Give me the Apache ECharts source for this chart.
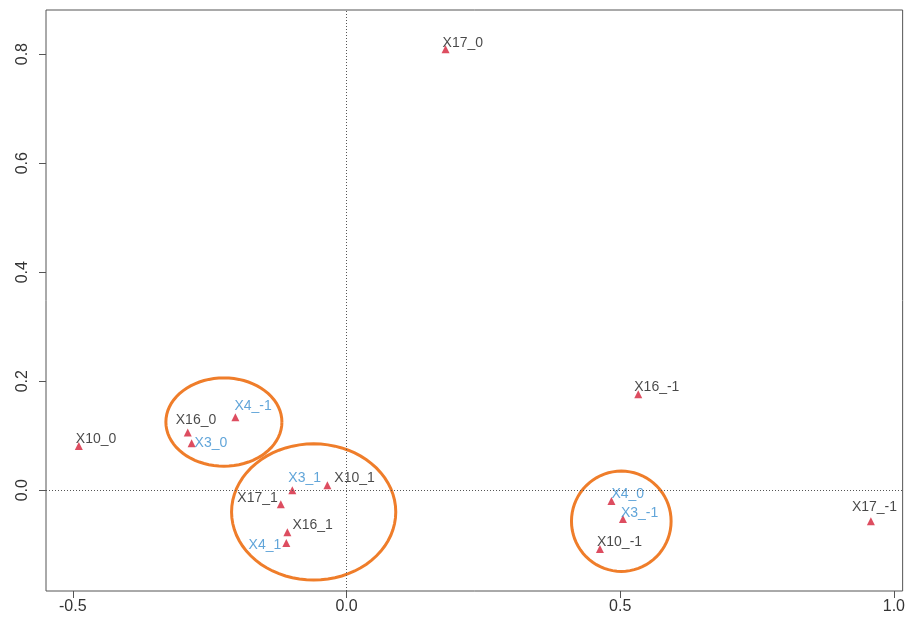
<!DOCTYPE html>
<html>
<head>
<meta charset="utf-8">
<script src="https://cdn.jsdelivr.net/npm/echarts@6/dist/echarts.min.js"></script>
<style>
  html, body { margin: 0; padding: 0; background: #fff; }
  #chart { width: 908px; height: 626px; }
</style>
</head>
<body>
<div id="chart"></div>
<script>
// category levels, coordinates
var names = ['X17_0', 'X16_-1', 'X10_0', 'X16_0', 'X3_0', 'X4_-1', 'X3_1', 'X10_1',
             'X17_1', 'X16_1', 'X4_1', 'X4_0', 'X3_-1', 'X10_-1', 'X17_-1'];
var dim1 = [0.181, 0.533, -0.489, -0.290, -0.283, -0.203, -0.099, -0.035,
            -0.120, -0.108, -0.110, 0.484, 0.505, 0.463, 0.958];
var dim2 = [0.809, 0.176, 0.081, 0.106, 0.086, 0.134, 0.000, 0.009,
            -0.026, -0.077, -0.097, -0.020, -0.053, -0.108, -0.057];
var xTicks = [-0.5, 0.0, 0.5, 1.0];
var yTicks = [0.0, 0.2, 0.4, 0.6, 0.8];
// highlighted groups: centre x, centre y, radius x, radius y (data units)
var groups = [
  [-0.224, 0.125, 0.106, 0.081],
  [-0.060, -0.040, 0.150, 0.125],
  [0.502, -0.057, 0.091, 0.092]
];

var blueVars = ['X3', 'X4'];
// label placement: [align, dx, dy] relative to the marker centre
var labelPlace = {
  'X17_0': ['left', -3, -6], 'X16_-1': ['left', -4, -7], 'X10_0': ['left', -3, -7],
  'X16_0': ['left', -12, -12], 'X3_0': ['left', 3, 0], 'X4_-1': ['left', -1, -11],
  'X3_1': ['left', -4, -12], 'X10_1': ['left', 7, -7], 'X17_1': ['right', -3, -6],
  'X16_1': ['left', 5, -7], 'X4_1': ['right', -5, 2], 'X4_0': ['left', 0, -7],
  'X3_-1': ['left', -2, -6], 'X10_-1': ['left', -3, -7], 'X17_-1': ['left', -19, -14]
};

var points = names.map(function (n, i) {
  var p = labelPlace[n];
  var isBlue = blueVars.indexOf(n.split('_')[0]) >= 0;
  return {
    name: n,
    value: [dim1[i], dim2[i]],
    label: {
      show: true,
      formatter: n,
      position: 'inside',
      align: p[0],
      verticalAlign: 'middle',
      offset: [p[1], p[2]],
      color: isBlue ? '#3a8fd0' : '#1a1a1a',
      fontSize: 14,
      fontFamily: 'Liberation Sans, Arial, sans-serif'
    }
  };
});

var chart = echarts.init(document.getElementById('chart'));
var option = {
  animation: false,
  backgroundColor: '#fff',
  grid: {
    left: 46, top: 10, right: 4, bottom: 35,
    show: true, borderColor: '#555', borderWidth: 1
  },
  xAxis: {
    type: 'value',
    min: -0.549, max: 1.016,
    splitLine: { show: false },
    axisLine: { show: false, onZero: false },
    axisTick: { show: true, customValues: xTicks, length: 7, lineStyle: { color: '#555' } },
    axisLabel: {
      customValues: xTicks, margin: 8,
      formatter: function (v) { return v.toFixed(1); },
      color: '#333', fontSize: 16, fontFamily: 'Liberation Sans, Arial, sans-serif'
    }
  },
  yAxis: {
    type: 'value',
    min: -0.185, max: 0.881,
    splitLine: { show: false },
    axisLine: { show: false, onZero: false },
    axisTick: { show: true, customValues: yTicks, length: 7, lineStyle: { color: '#555' } },
    axisLabel: {
      customValues: yTicks, margin: 15, rotate: 90,
      formatter: function (v) { return v.toFixed(1); },
      color: '#333', fontSize: 16, fontFamily: 'Liberation Sans, Arial, sans-serif'
    }
  },
  series: [
    {
      type: 'scatter',
      symbol: 'triangle',
      symbolSize: 8,
      itemStyle: { color: '#d42038' },
      data: points,
      z: 3,
      markLine: {
        silent: true,
        symbol: 'none',
        label: { show: false },
        lineStyle: { color: '#555', width: 1, type: [1, 2] },
        data: [{ xAxis: 0 }, { yAxis: 0 }]
      }
    },
    {
      type: 'custom',
      silent: true,
      z: 2,
      data: groups,
      renderItem: function (params, api) {
        var cx = api.value(0), cy = api.value(1), rx = api.value(2), ry = api.value(3);
        var pts = [];
        for (var k = 0; k <= 72; k++) {
          var t = k / 72 * Math.PI * 2;
          pts.push(api.coord([cx + rx * Math.cos(t), cy + ry * Math.sin(t)]));
        }
        return {
          type: 'polyline',
          shape: { points: pts },
          style: { stroke: '#ef7d2a', lineWidth: 3, fill: 'none' }
        };
      }
    }
  ]
};
chart.setOption(option);
</script>
</body>
</html>
